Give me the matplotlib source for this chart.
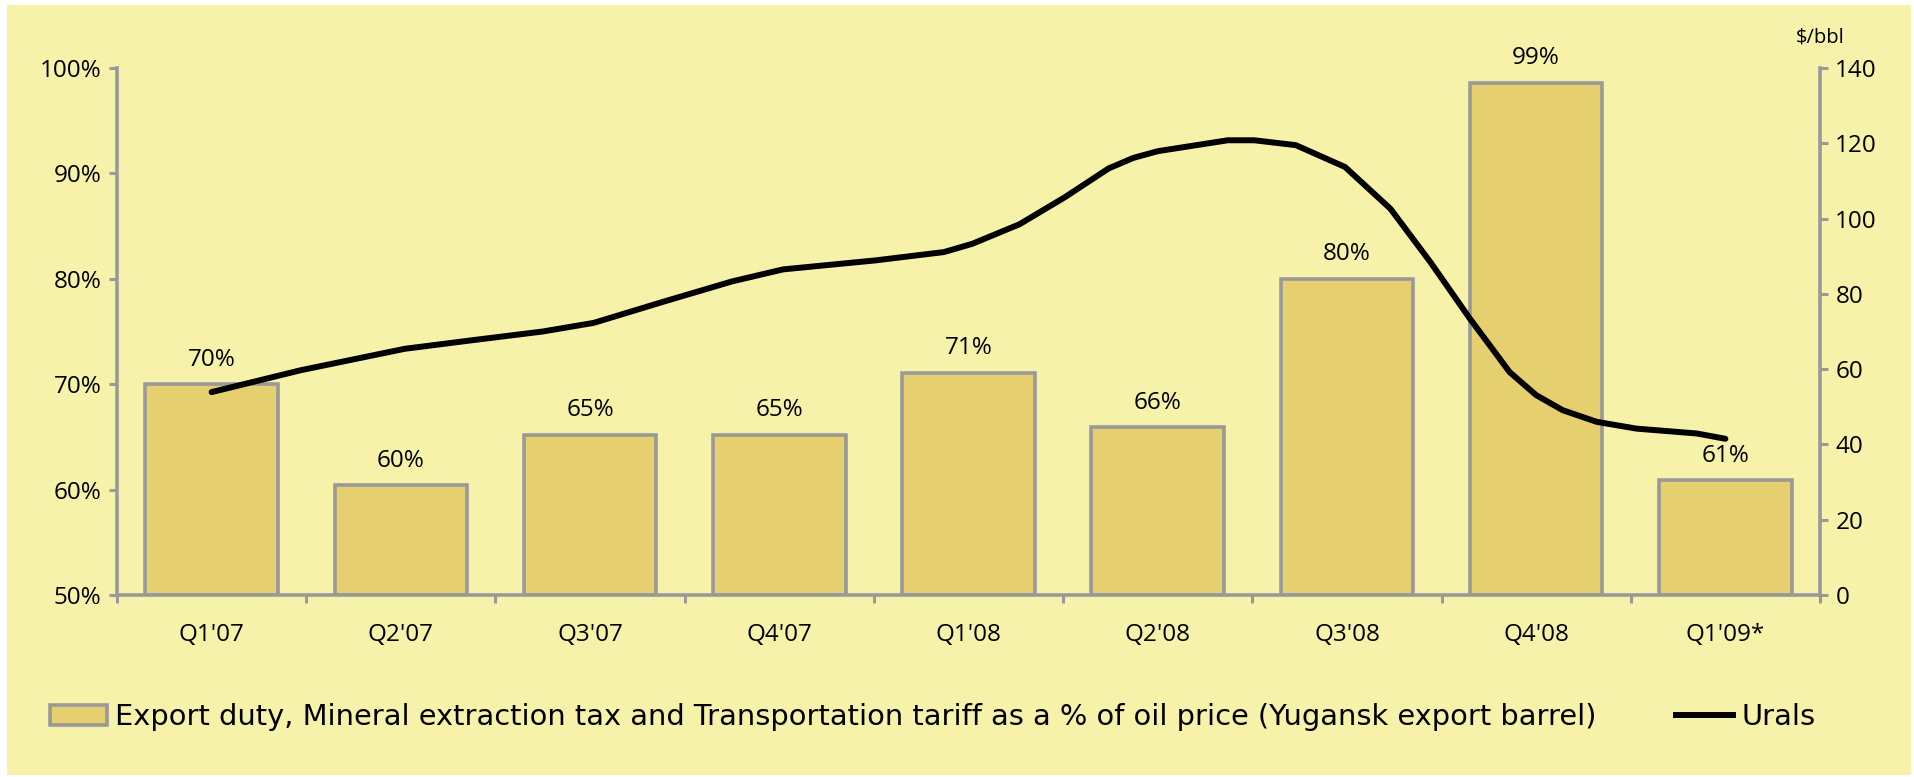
import numpy as np
import matplotlib
matplotlib.use("Agg")
from matplotlib import pyplot as plt
from matplotlib.patches import Rectangle
from matplotlib.lines import Line2D
from matplotlib.patches import Patch

plt.rcParams['font.family'] = ['Open Sans', 'DejaVu Sans']

# data
quarters = ["Q1'07", "Q2'07", "Q3'07", "Q4'07", "Q1'08", "Q2'08", "Q3'08", "Q4'08", "Q1'09*"]
tax_share = [70.0, 60.4, 65.2, 65.2, 71.1, 65.9, 80.0, 98.6, 60.9]
share_labels = ["70%", "60%", "65%", "65%", "71%", "66%", "80%", "99%", "61%"]

# Urals price, $/bbl, position in quarter units
urals_pos = [0.00, 0.47, 1.02, 1.38, 1.75, 2.02, 2.38, 2.75, 3.02, 3.51, 3.87, 4.02,
             4.27, 4.51, 4.74, 4.87, 5.00, 5.37, 5.51, 5.73, 5.99, 6.23, 6.44, 6.65,
             6.86, 7.00, 7.14, 7.32, 7.53, 7.85, 8.00]
urals_price = [53.9, 59.7, 65.4, 67.7, 70.0, 72.3, 77.8, 83.3, 86.5, 88.9, 91.1, 93.3,
               98.5, 105.7, 113.3, 116.1, 117.9, 120.8, 120.8, 119.5, 113.7, 102.6, 88.5, 73.4,
               59.2, 53.1, 49.1, 46.0, 44.2, 42.9, 41.5]

bg = '#F7F2AA'
bar_col = '#E6CF6E'
grey = '#999999'
fs = 17.5

W, H = 1915, 777
fig = plt.figure(figsize=(W / 100, H / 100), dpi=100, facecolor='white')
fig.patches.append(Rectangle((7 / W, 2 / H), (1911 - 7) / W, (772 - 2) / H,
                             transform=fig.transFigure, facecolor=bg, edgecolor='none', zorder=-10))

ax = fig.add_axes([117 / W, 1 - 595 / H, (1820 - 117) / W, (595 - 68) / H])
ax.set_facecolor('none')
x = np.arange(len(quarters))
bars = ax.bar(x, [v - 50 for v in tax_share], bottom=50, width=0.7, color=bar_col,
              edgecolor=grey, linewidth=2.6, zorder=2)
for xi, v, lab in zip(x, tax_share, share_labels):
    ax.annotate(lab, (xi, v), xytext=(0, 9), textcoords='offset points',
                ha='center', va='bottom', fontsize=fs)

ax.set_xlim(-0.5, len(quarters) - 0.5)
ax.set_ylim(50, 100)
ax.set_yticks(np.arange(50, 101, 10))
ax.set_yticklabels([f"{v}%" for v in range(50, 101, 10)])
ax.set_xticks(x)
ax.set_xticklabels(quarters)
ax.set_xticks(np.arange(-0.5, len(quarters), 1), minor=True)
ax.tick_params(axis='x', which='major', length=0, pad=20, labelsize=fs)
ax.tick_params(axis='x', which='minor', length=6, width=2.2, color=grey, direction='out')
ax.tick_params(axis='y', length=6, width=2.2, color=grey, labelsize=fs, pad=5)
for s in ['top', 'right']:
    ax.spines[s].set_visible(False)
for s in ['left', 'bottom']:
    ax.spines[s].set_color(grey)
    ax.spines[s].set_linewidth(2.6)

ax2 = ax.twinx()
ax2.plot(urals_pos, urals_price, color='black', linewidth=4.3, solid_capstyle='round',
         solid_joinstyle='round', zorder=3)
ax2.set_ylim(0, 140)
ax2.set_yticks(np.arange(0, 141, 20))
ax2.tick_params(axis='y', length=6, width=2.2, color=grey, labelsize=fs, pad=5)
for s in ['top', 'left', 'bottom']:
    ax2.spines[s].set_visible(False)
ax2.spines['right'].set_color(grey)
ax2.spines['right'].set_linewidth(2.6)
fig.text(1820 / W, 1 - 37 / H, "$/bbl", ha='center', va='center', fontsize=14.5)

# legend, two separate pieces
leg_font = {'family': 'DejaVu Sans', 'size': 20.8}
h_bar = Patch(facecolor=bar_col, edgecolor=grey, linewidth=2.6)
h_line = Line2D([], [], color='black', linewidth=4.3)
fig.legend([h_bar], ["Export duty, Mineral extraction tax and Transportation tariff as a % of oil price (Yugansk export barrel)"],
           loc='center left', bbox_to_anchor=(38 / W, 1 - 717 / H), frameon=False,
           prop=leg_font, handlelength=2.0, handletextpad=0.28, borderaxespad=0)
fig.legend([h_line], ["Urals"], loc='center left', bbox_to_anchor=(1664 / W, 1 - 717 / H),
           frameon=False, prop=leg_font, handlelength=2.0, handletextpad=0.28, borderaxespad=0)

fig.savefig("out.png", dpi=100, facecolor='white')
